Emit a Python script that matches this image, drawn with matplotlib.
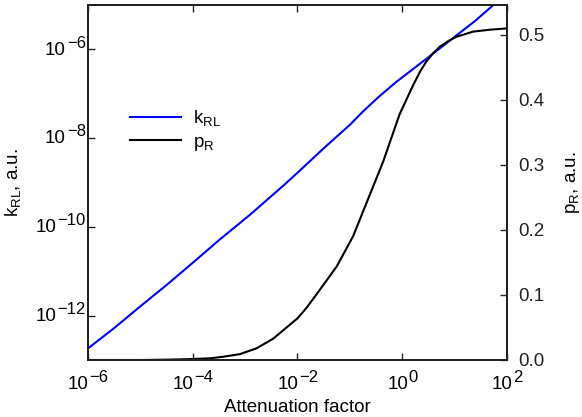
import matplotlib
matplotlib.use("Agg")
import matplotlib.pyplot as plt
import numpy as np

plt.rcParams['font.family'] = ['Liberation Sans', 'DejaVu Sans']
plt.rcParams['mathtext.fontset'] = 'custom'
plt.rcParams['mathtext.rm'] = 'Liberation Sans'
plt.rcParams['mathtext.it'] = 'Liberation Sans'

# rate constant k_RL vs attenuation factor (log10 values)
k_logx = [-6, -5.5, -5, -4.5, -4, -3.5, -2.91, -2.27, -2, -1.5, -1, -0.75, -0.43,
          -0.11, 0.21, 0.53, 0.78, 1.03, 1.39, 1.73]
k_logy = [-12.74, -12.28, -11.79, -11.31, -10.81, -10.30, -9.73, -9.07, -8.78, -8.23,
          -7.70, -7.40, -7.05, -6.73, -6.44, -6.15, -5.92, -5.69, -5.36, -5.01]

# probability p_R vs attenuation factor
p_logx = [-6, -5, -4.5, -3.99, -3.67, -3.42, -3.10, -2.78, -2.46, -2.15, -2.0, -1.83,
          -1.60, -1.25, -0.94, -0.62, -0.36, -0.24, -0.05, 0.21, 0.35, 0.46, 0.58, 0.72,
          0.87, 1.03, 1.35, 1.67, 2.0]
p_val = [0, 0, 0.0005, 0.0015, 0.0026, 0.005, 0.009, 0.018, 0.033, 0.054, 0.064, 0.080,
         0.105, 0.144, 0.190, 0.254, 0.306, 0.334, 0.378, 0.423, 0.445, 0.459, 0.471,
         0.482, 0.490, 0.497, 0.505, 0.508, 0.510]

x_exps = [-6, -4, -2, 0, 2]
y_exps = [-12, -10, -8, -6]
p_ticks = [0.0, 0.1, 0.2, 0.3, 0.4, 0.5]

FS = 13.5   # base font size
FE = 12     # exponent font size


def exp_str(e):
    return str(e).replace('-', '\u2212')


def exp_width(s):
    return sum(0.584 if c == '\u2212' else 0.556 for c in s) * FE


def label_x_ticks(ax):
    w10 = 2 * 0.556 * FS
    for e in x_exps:
        s = exp_str(e)
        shift = w10 - (w10 + exp_width(s)) / 2
        base = ax.annotate('10', xy=(10.0 ** e, 0), xycoords=('data', 'axes fraction'),
                           xytext=(shift, -11.5), textcoords='offset points',
                           ha='right', va='top', fontsize=FS)
        ax.annotate(s, xy=(1, 1), xycoords=base, xytext=(0.5, 4), textcoords='offset points',
                    ha='left', va='top', fontsize=FE)


def label_y_ticks(ax):
    for e in y_exps:
        s = exp_str(e)
        sup = ax.annotate(s, xy=(0, 10.0 ** e), xycoords=('axes fraction', 'data'),
                          xytext=(-1.5, 4.5), textcoords='offset points',
                          ha='right', va='center', fontsize=FE)
        ax.annotate('10', xy=(0, 0.5), xycoords=sup, xytext=(-1, -5),
                    textcoords='offset points', ha='right', va='center', fontsize=FS)


fig = plt.figure(figsize=(5.82, 4.17), dpi=100)
ax = fig.add_axes([0.1512, 0.1367, 0.7199, 0.8513])
ax2 = ax.twinx()

l1, = ax.plot(10.0 ** np.array(k_logx), 10.0 ** np.array(k_logy), color='#0000ff', lw=1.5)
l2, = ax2.plot(10.0 ** np.array(p_logx), p_val, color='black', lw=1.5)

ax.set_xscale('log')
ax.set_yscale('log')
ax.set_xlim(1e-6, 1e2)
ax.set_ylim(1e-13, 1e-5)
ax2.set_ylim(0, 0.546)

ax.set_xticks([10.0 ** e for e in x_exps])
ax.set_yticks([10.0 ** e for e in y_exps])
ax.xaxis.set_minor_locator(matplotlib.ticker.NullLocator())
ax.yaxis.set_minor_locator(matplotlib.ticker.NullLocator())
ax.xaxis.set_major_formatter(matplotlib.ticker.NullFormatter())
ax.yaxis.set_major_formatter(matplotlib.ticker.NullFormatter())
ax2.set_yticks(p_ticks)
ax2.set_yticklabels(['%.1f' % t for t in p_ticks])

for a in (ax, ax2):
    a.tick_params(direction='in', length=5, width=1.0, labelsize=FS, colors='#222222')
    for s in a.spines.values():
        s.set_linewidth(1.4)
        s.set_color('#222222')
ax.tick_params(axis='x', top=True)
ax2.tick_params(axis='y', pad=8)

label_x_ticks(ax)
label_y_ticks(ax)

ax.set_xlabel('Attenuation factor', fontsize=FS)
ax.xaxis.set_label_coords(0.5, -0.11)
ax.set_ylabel(r'k$_{\mathregular{RL}}$, a.u.', fontsize=FS)
ax.yaxis.set_label_coords(-0.155, 0.5)
ax2.set_ylabel(r'p$_{\mathregular{R}}$, a.u.', fontsize=FS)
ax2.yaxis.set_label_coords(1.136, 0.5)

ax.legend([l1, l2], [r'k$_{\mathregular{RL}}$', r'p$_{\mathregular{R}}$'], loc='center left',
          bbox_to_anchor=(0.079, 0.6465), frameon=False, fontsize=FS, borderpad=0,
          handlelength=2.72, handletextpad=0.59, labelspacing=0.3)

fig.savefig('out.png', dpi=100)
